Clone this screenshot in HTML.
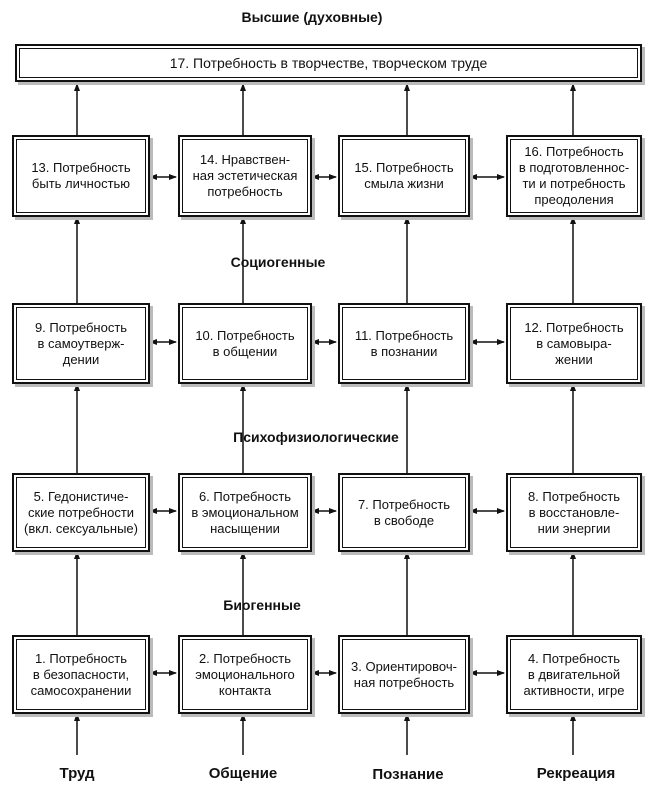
<!DOCTYPE html>
<html><head><meta charset="utf-8"><style>
body{margin:0;width:663px;height:803px;background:#fff;position:relative;overflow:hidden;font-family:"Liberation Sans","DejaVu Sans",sans-serif;color:#111}
.b{position:absolute;border:2px solid #111;background:#fff;box-shadow:3px 3px 0 #bbb;display:flex;align-items:center;justify-content:center;text-align:center;font-size:13px;line-height:16px}
.b::after{content:"";position:absolute;left:2px;top:2px;right:2px;bottom:2px;border:1px solid #111}
.l{position:absolute;font-weight:bold;font-size:14px;transform:translateX(-50%);white-space:nowrap}
svg{position:absolute;left:0;top:0}
</style></head><body>
<svg width="663" height="803">
<defs><marker id="a" markerWidth="8" markerHeight="8" refX="7" refY="4" orient="auto-start-reverse" markerUnits="userSpaceOnUse"><path d="M0,1 L8,4 L0,7 Z" fill="#111"/></marker></defs>
<g stroke="#111" stroke-width="1.5" fill="none">
<g marker-end="url(#a)">
<line x1="77" y1="135" x2="77" y2="84"/><line x1="243" y1="135" x2="243" y2="84"/><line x1="407" y1="135" x2="407" y2="84"/><line x1="573" y1="135" x2="573" y2="84"/>
<line x1="77" y1="303" x2="77" y2="217"/><line x1="243" y1="303" x2="243" y2="217"/><line x1="407" y1="303" x2="407" y2="217"/><line x1="573" y1="303" x2="573" y2="217"/>
<line x1="77" y1="473" x2="77" y2="384"/><line x1="243" y1="473" x2="243" y2="384"/><line x1="407" y1="473" x2="407" y2="384"/><line x1="573" y1="473" x2="573" y2="384"/>
<line x1="77" y1="635" x2="77" y2="552"/><line x1="243" y1="635" x2="243" y2="552"/><line x1="407" y1="635" x2="407" y2="552"/><line x1="573" y1="635" x2="573" y2="552"/>
<line x1="77" y1="755" x2="77" y2="714"/><line x1="243" y1="755" x2="243" y2="714"/><line x1="407" y1="755" x2="407" y2="714"/><line x1="573" y1="755" x2="573" y2="714"/>
</g>
<g marker-start="url(#a)" marker-end="url(#a)">
<line x1="150" y1="177" x2="176" y2="177"/><line x1="312" y1="177" x2="336" y2="177"/><line x1="470" y1="177" x2="504" y2="177"/>
<line x1="150" y1="342" x2="176" y2="342"/><line x1="312" y1="342" x2="336" y2="342"/><line x1="470" y1="342" x2="504" y2="342"/>
<line x1="150" y1="511" x2="176" y2="511"/><line x1="312" y1="511" x2="336" y2="511"/><line x1="470" y1="511" x2="504" y2="511"/>
<line x1="150" y1="673" x2="176" y2="673"/><line x1="312" y1="673" x2="336" y2="673"/><line x1="470" y1="673" x2="504" y2="673"/>
</g></g></svg>
<div class="l" style="left:312px;top:9px">Высшие (духовные)</div>
<div class="b" style="left:15px;top:44px;width:623px;height:34px;font-size:14px">17. Потребность в творчестве, творческом труде</div>

<div class="b" style="left:12px;top:135px;width:134px;height:78px">13. Потребность<br>быть личностью</div>
<div class="b" style="left:178px;top:135px;width:130px;height:78px">14. Нравствен-<br>ная эстетическая<br>потребность</div>
<div class="b" style="left:338px;top:135px;width:128px;height:78px">15. Потребность<br>смыла жизни</div>
<div class="b" style="left:506px;top:135px;width:132px;height:78px">16. Потребность<br>в подготовленнос-<br>ти и потребность<br>преодоления</div>

<div class="l" style="left:278px;top:254px">Социогенные</div>
<div class="b" style="left:12px;top:303px;width:134px;height:77px">9. Потребность<br>в самоутверж-<br>дении</div>
<div class="b" style="left:178px;top:303px;width:130px;height:77px">10. Потребность<br>в общении</div>
<div class="b" style="left:338px;top:303px;width:128px;height:77px">11. Потребность<br>в познании</div>
<div class="b" style="left:506px;top:303px;width:132px;height:77px">12. Потребность<br>в самовыра-<br>жении</div>

<div class="l" style="left:316px;top:429px">Психофизиологические</div>
<div class="b" style="left:12px;top:473px;width:134px;height:75px">5. Гедонистиче-<br>ские потребности<br>(вкл. сексуальные)</div>
<div class="b" style="left:178px;top:473px;width:130px;height:75px">6. Потребность<br>в эмоциональном<br>насыщении</div>
<div class="b" style="left:338px;top:473px;width:128px;height:75px">7. Потребность<br>в свободе</div>
<div class="b" style="left:506px;top:473px;width:132px;height:75px">8. Потребность<br>в восстановле-<br>нии энергии</div>

<div class="l" style="left:262px;top:597px">Биогенные</div>
<div class="b" style="left:12px;top:635px;width:134px;height:75px">1. Потребность<br>в безопасности,<br>самосохранении</div>
<div class="b" style="left:178px;top:635px;width:130px;height:75px">2. Потребность<br>эмоционального<br>контакта</div>
<div class="b" style="left:338px;top:635px;width:128px;height:75px">3. Ориентировоч-<br>ная потребность</div>
<div class="b" style="left:506px;top:635px;width:132px;height:75px">4. Потребность<br>в двигательной<br>активности, игре</div>

<div class="l" style="left:77px;top:765px;font-size:15px">Труд</div>
<div class="l" style="left:243px;top:765px;font-size:15px">Общение</div>
<div class="l" style="left:408px;top:766px;font-size:15px">Познание</div>
<div class="l" style="left:576px;top:765px;font-size:15px">Рекреация</div>
</body></html>
